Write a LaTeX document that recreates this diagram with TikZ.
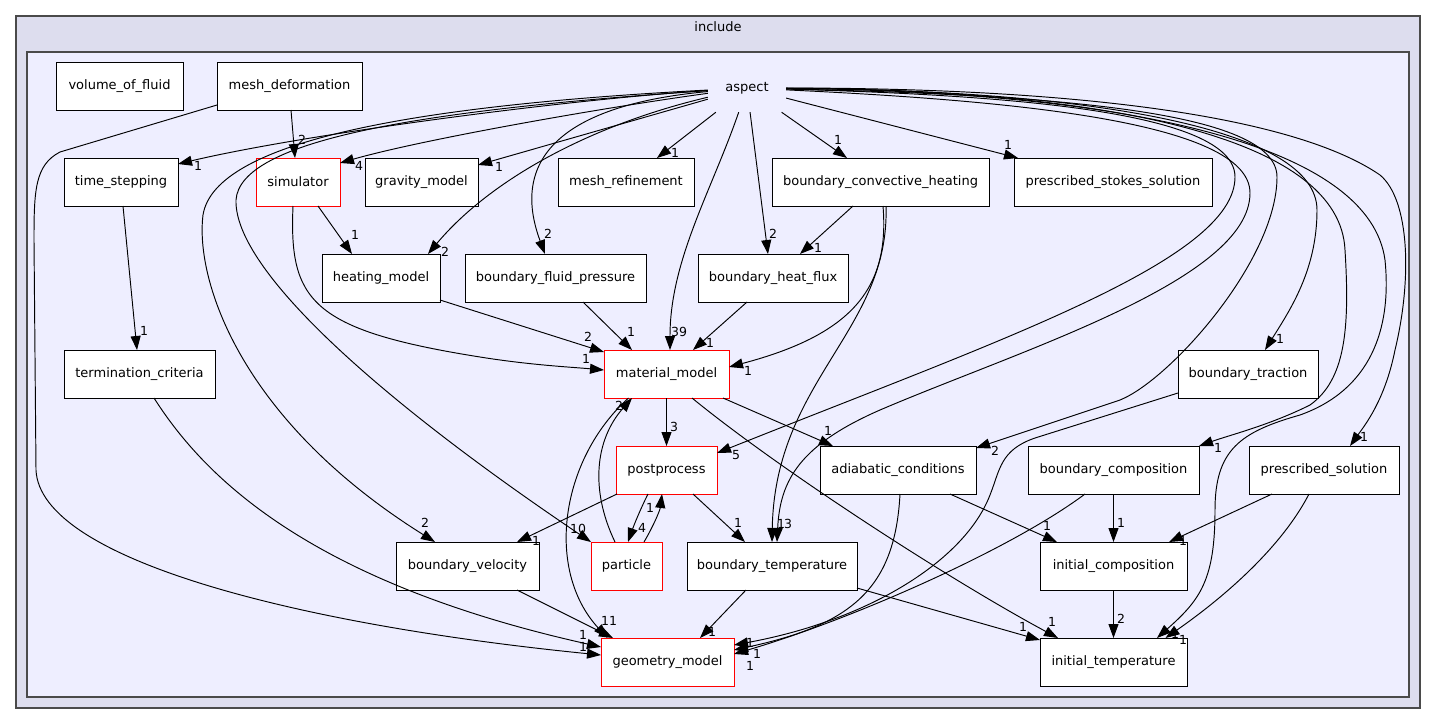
\documentclass[tikz,border=0pt]{standalone}
\usepackage{fontspec}
\setmainfont{DejaVu Sans}
\usetikzlibrary{arrows.meta,calc}
\definecolor{outerfill}{HTML}{DDDDEE}
\definecolor{innerfill}{HTML}{EEEEFF}
\definecolor{clborder}{HTML}{4A4A4A}
\begin{document}
\begin{tikzpicture}[x=1pt,y=-1pt,
  box/.style={draw=black, fill=white, line width=0.9pt, minimum height=48pt, inner sep=0pt, outer sep=0pt, font=\fontsize{13}{15}\selectfont},
  redbox/.style={box, draw=red},
  e/.style={line width=0.95pt, -{Triangle[length=14pt,width=10pt]}},
  lbl/.style={font=\fontsize{12.5}{14}\selectfont, inner sep=0pt},
  cltitle/.style={font=\fontsize{13}{15}\selectfont, inner sep=0pt}
]
\useasboundingbox (0,0) rectangle (1436,724);
\fill[white] (0,0) rectangle (1436,724);
% clusters
\filldraw[fill=outerfill, draw=clborder, line width=2pt] (16,16) rectangle (1420,708);
\node[cltitle] (includelbl) at (718,27) {include};
\filldraw[fill=innerfill, draw=clborder, line width=1.5pt] (27,52) rectangle (1409,697);
\node[cltitle, minimum width=78pt, minimum height=48pt] (aspect) at (747,88) {aspect};

% nodes
\node[box, minimum width=127pt] (vof) at (119.5,86) {volume\_of\_fluid};
\node[box, minimum width=145pt] (meshdef) at (289.5,86) {mesh\_deformation};
\node[box, minimum width=114pt] (timestep) at (121,182) {time\_stepping};
\node[redbox, minimum width=84pt] (simulator) at (298,182) {simulator};
\node[box, minimum width=113pt] (gravity) at (421.5,182) {gravity\_model};
\node[box, minimum width=136pt] (meshref) at (626,182) {mesh\_refinement};
\node[box, minimum width=217pt] (bch) at (880.5,182) {boundary\_convective\_heating};
\node[box, minimum width=198pt] (pss) at (1113,182) {prescribed\_stokes\_solution};
\node[box, minimum width=118pt] (heating) at (381,278) {heating\_model};
\node[box, minimum width=181pt] (bfp) at (555.5,278) {boundary\_fluid\_pressure};
\node[box, minimum width=150pt] (bhf) at (773,278) {boundary\_heat\_flux};
\node[box, minimum width=151pt] (term) at (139.5,374) {termination\_criteria};
\node[redbox, minimum width=125pt] (matmodel) at (666.5,374) {material\_model};
\node[box, minimum width=140pt] (btrac) at (1248,374) {boundary\_traction};
\node[redbox, minimum width=101pt] (postproc) at (666.5,470) {postprocess};
\node[box, minimum width=156pt] (adiab) at (898,470) {adiabatic\_conditions};
\node[box, minimum width=171pt] (bcomp) at (1113.5,470) {boundary\_composition};
\node[box, minimum width=150pt] (psol) at (1324,470) {prescribed\_solution};
\node[box, minimum width=143pt] (bvel) at (467.5,566) {boundary\_velocity};
\node[redbox, minimum width=71pt] (particle) at (626.5,566) {particle};
\node[box, minimum width=170pt] (btemp) at (772,566) {boundary\_temperature};
\node[box, minimum width=147pt] (icomp) at (1113.5,566) {initial\_composition};
\node[redbox, minimum width=133pt] (geom) at (667.5,662) {geometry\_model};
\node[box, minimum width=147pt] (itemp) at (1113.5,662) {initial\_temperature};

% edges from aspect (left side)
\draw[e] (aspect) .. controls (560,100) and (300,135) .. ([yshift=18pt]timestep.east);
\draw[e] (aspect) .. controls (600,108) and (420,140) .. ([yshift=19pt]simulator.east);
\draw[e] (aspect) -- ([yshift=17pt]gravity.east);
\draw[e] (aspect) -- ([xshift=31pt]meshref.north);
\draw[e] (aspect) .. controls (590,125) and (490,180) .. ([xshift=47pt]heating.north);
\draw[e] (aspect) .. controls (560,105) and (510,160) .. ([xshift=-10.5pt]bfp.north);
\draw[e] (aspect) .. controls (712,190) and (670,260) .. ([xshift=3.5pt]matmodel.north);
\draw[e] (aspect) -- ([xshift=-5pt]bhf.north);
\draw[e] (aspect) -- ([xshift=-33.5pt]bch.north);
\draw[e] (aspect) -- ([xshift=-95pt]pss.north);
\draw[e] (aspect) .. controls (420,105) and (215,140) .. (203,215) .. controls (195,280) and (240,420) .. ([xshift=-32.5pt]bvel.north);
\draw[e] (aspect) .. controls (420,110) and (240,140) .. (236,200) .. controls (234,270) and (380,400) .. (particle.north west);
% edges from aspect (right side)
\draw[e] (aspect) .. controls (1000,100) and (1250,120) .. (1250,193) .. controls (1250,280) and (1020,350) .. (880,410) .. controls (800,445) and (780,480) .. ([xshift=5pt]btemp.north);
\draw[e] (aspect) .. controls (1000,95) and (1235,110) .. (1235,177) .. controls (1235,260) and (1000,340) .. ([yshift=17pt]postproc.east);
\draw[e] (aspect) .. controls (1050,95) and (1277,110) .. (1277,177) .. controls (1277,260) and (1170,380) .. (1120,400) -- ([yshift=-2pt]adiab.north east);
\draw[e] (aspect) .. controls (1100,90) and (1317,130) .. (1317,210) .. controls (1317,270) and (1290,310) .. ([xshift=17pt]btrac.north);
\draw[e] (aspect) .. controls (1120,90) and (1340,140) .. (1345,250) .. controls (1350,330) and (1345,380) .. (1310,405) .. controls (1270,425) and (1230,435) .. (bcomp.north east);
\draw[e] (aspect) .. controls (1150,92) and (1370,150) .. (1385,260) .. controls (1392,330) and (1370,390) .. (1300,415) .. controls (1240,432) and (1215,450) .. (1215,510) .. controls (1215,580) and (1200,600) .. ([xshift=43.5pt]itemp.north);
\draw[e] (aspect) .. controls (1100,88) and (1300,120) .. (1380,175) .. controls (1410,200) and (1412,280) .. (1395,350) .. controls (1385,400) and (1365,425) .. ([xshift=26pt]psol.north);

% other edges
\draw[e] ([xshift=1.5pt]meshdef.south) -- ([xshift=-3pt]simulator.north);
\draw[e] ([yshift=-19pt]meshdef.west) -- (60,152) .. controls (35,165) and (34,190) .. (34,240) -- (36,470) .. controls (40,560) and (300,625) .. ([yshift=7pt]geom.west);
\draw[e] ([xshift=2pt]timestep.south) -- ([xshift=-2.5pt]term.north);
\draw[e] ([xshift=20pt]simulator.south) -- ([xshift=-29pt]heating.north);
\draw[e] ([xshift=-5pt]simulator.south) .. controls (289,300) and (310,330) .. (480,357) .. controls (530,365) and (570,367) .. ([yshift=4pt]matmodel.west);
\draw[e] ([yshift=-22pt]heating.east) -- ([yshift=22pt]matmodel.west);
\draw[e] ([xshift=27.5pt]bfp.south) -- ([xshift=-34.5pt]matmodel.north);
\draw[e] ([xshift=-26pt]bhf.south) -- ([xshift=26.5pt]matmodel.north);
\draw[e] ([xshift=-27.5pt]bch.south) -- ([xshift=27pt]bhf.north);
\draw[e] ([xshift=2.5pt]bch.south) .. controls (890,290) and (850,335) .. ([yshift=7pt]matmodel.east);
\draw[e] ([xshift=5.5pt]bch.south) .. controls (890,330) and (775,380) .. (btemp.north);
\draw[e] (matmodel.south) -- (postproc.north);
\draw[e] ([xshift=56.5pt]matmodel.south) -- ([xshift=-65pt]adiab.north);
\draw[e] ([xshift=25.5pt]matmodel.south) .. controls (780,470) and (950,580) .. ([xshift=-55.5pt]itemp.north);
\draw[e] ([xshift=1pt]postproc.south west) -- ([xshift=49.5pt]bvel.north);
\draw[e] ([xshift=-18.5pt]postproc.south) .. controls (640,510) and (634,525) .. ([xshift=1.5pt]particle.north);
\draw[e] ([xshift=17.5pt]particle.north) .. controls (654,525) and (660,510) .. ([xshift=-4.5pt]postproc.south);
\draw[e] ([xshift=26.5pt]postproc.south) -- ([xshift=-27pt]btemp.north);
\draw[e] ([xshift=-11.5pt]particle.north) .. controls (590,490) and (595,440) .. ([xshift=-34.5pt]matmodel.south);
\draw[e] ([xshift=-38pt]matmodel.south) .. controls (560,460) and (545,570) .. ([xshift=-60pt]geom.north);
\draw[e] ([xshift=49.5pt]bvel.south) -- ([xshift=-54.5pt]geom.north);
\draw[e] ([xshift=-26pt]btemp.south) -- ([xshift=32.5pt]geom.north);
\draw[e] ([xshift=14.5pt]term.south) .. controls (200,470) and (300,580) .. ([yshift=15pt]geom.west);
\draw[e] ([yshift=-19pt]btrac.west) -- (1035,438) .. controls (1000,450) and (1000,470) .. (990,495) .. controls (965,560) and (870,620) .. ([yshift=17pt]geom.east);
\draw[e] ([xshift=2pt]adiab.south) .. controls (895,590) and (850,625) .. ([yshift=12pt]geom.east);
\draw[e] ([xshift=-28.5pt]bcomp.south) .. controls (1010,550) and (850,620) .. ([yshift=8pt]geom.east);
\draw[e] ([xshift=52pt]adiab.south) -- ([xshift=-56.5pt]icomp.north);
\draw[e] (bcomp.south) -- (icomp.north);
\draw[e] ([xshift=-52pt]psol.south) -- ([xshift=55.5pt]icomp.north);
\draw[e] (icomp.south) -- (itemp.north);
\draw[e] ([xshift=-15pt]psol.south) .. controls (1280,550) and (1220,600) .. ([xshift=52pt]itemp.north);
\draw[e] ([yshift=-22pt]btemp.east) -- ([yshift=22pt]itemp.west);

% edge labels
\node[lbl] (l1) at (198,166) {1};
\node[lbl] (l2) at (359,166) {4};
\node[lbl] (l3) at (499,167) {1};
\node[lbl] (l4) at (675,153) {1};
\node[lbl] (l5) at (445,252) {2};
\node[lbl] (l6) at (548,234) {2};
\node[lbl] (l7) at (679,332) {39};
\node[lbl] (l8) at (773,234) {2};
\node[lbl] (l9) at (838,140) {1};
\node[lbl] (l10) at (1008,145) {1};
\node[lbl] (l11) at (425,523) {2};
\node[lbl] (l12) at (578,529) {10};
\node[lbl] (l13) at (302,140) {2};
\node[lbl] (l14) at (583,647) {1};
\node[lbl] (l15) at (144,331) {1};
\node[lbl] (l16) at (355,235) {1};
\node[lbl] (l17) at (586,359) {1};
\node[lbl] (l18) at (588,337) {2};
\node[lbl] (l19) at (631,332) {1};
\node[lbl] (l20) at (710,343) {1};
\node[lbl] (l21) at (818,248) {1};
\node[lbl] (l22) at (748,371) {1};
\node[lbl] (l23) at (781,524) {1};
\node[lbl] (l24) at (788,524) {3};
\node[lbl] (l25) at (736,455) {5};
\node[lbl] (l26) at (995,451) {2};
\node[lbl] (l27) at (1280,339) {1};
\node[lbl] (l28) at (1218,448) {1};
\node[lbl] (l29) at (1175,634) {1};
\node[lbl] (l30) at (1364,437) {1};
\node[lbl] (l31) at (674,427) {3};
\node[lbl] (l32) at (828,431) {1};
\node[lbl] (l33) at (1052,622) {1};
\node[lbl] (l34) at (536,541) {1};
\node[lbl] (l35) at (642,528) {4};
\node[lbl] (l36) at (650,508) {1};
\node[lbl] (l37) at (738,523) {1};
\node[lbl] (l38) at (619,406) {2};
\node[lbl] (l39) at (605,621) {1};
\node[lbl] (l40) at (613,621) {1};
\node[lbl] (l41) at (712,632) {1};
\node[lbl] (l42) at (583,635) {1};
\node[lbl] (l43) at (750,643) {1};
\node[lbl] (l44) at (757,654) {1};
\node[lbl] (l45) at (750,666) {1};
\node[lbl] (l46) at (1047,526) {1};
\node[lbl] (l47) at (1121,523) {1};
\node[lbl] (l48) at (1183,541) {1};
\node[lbl] (l49) at (1121,619) {2};
\node[lbl] (l50) at (1183,640) {1};
\node[lbl] (l51) at (1023,627) {1};
\end{tikzpicture}
\end{document}
